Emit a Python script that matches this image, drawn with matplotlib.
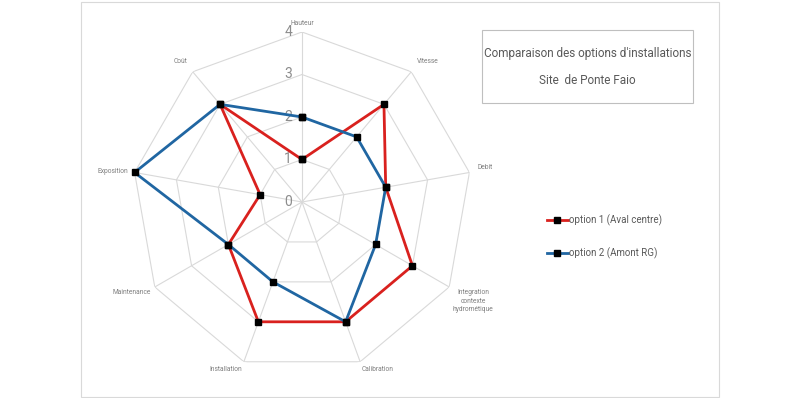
import matplotlib.pyplot as plt
import numpy as np
from matplotlib.patches import Rectangle

plt.rcParams['font.family'] = ['Roboto', 'DejaVu Sans']

# Données
criteres = ['Hauteur', 'Vitesse', 'Debit', 'Integration\ncontexte\nhydrométique',
            'Calibration', 'Installation', 'Maintenance', 'Exposition', 'Coût']
option1 = [1, 3, 2, 3, 3, 3, 2, 1, 3]
option2 = [2, 2, 2, 2, 3, 2, 2, 4, 3]
noms = ['option 1 (Aval centre)', 'option 2 (Amont RG)']
graduations = [0, 1, 2, 3, 4]

rouge = '#d9211e'
bleu = '#2066a2'
gris = '#d9d9d9'
texte = '#7f7f7f'

n = len(criteres)
angles = np.arange(n) * 2 * np.pi / n

fig = plt.figure(figsize=(8, 3.98), dpi=100)

# Cadre du graphique
fig.patches.append(Rectangle((81 / 800, 1 / 398), 638 / 800, 395 / 398,
                             transform=fig.transFigure, fill=False,
                             edgecolor=gris, linewidth=0.8))

ax = fig.add_axes([132 / 800, 26 / 398, 340 / 800, 340 / 398], projection='polar')
ax.set_theta_offset(np.pi / 2)
ax.set_theta_direction(-1)
ax.set_ylim(0, 4)
ax.grid(False)
ax.spines['polar'].set_visible(False)
ax.set_xticks([])
ax.set_yticks([])
ax.patch.set_alpha(0)

# Grille polygonale
ang_ferme = np.append(angles, angles[0])
for g in graduations[1:]:
    ax.plot(ang_ferme, [g] * (n + 1), color=gris, linewidth=0.8, zorder=1)
for a in angles:
    ax.plot([a, a], [0, 4], color=gris, linewidth=0.8, zorder=1)

# Valeurs de l'échelle
for g in graduations:
    ax.annotate(str(g), xy=(0, g), xytext=(-10, 0), textcoords='offset points',
                ha='center', va='center', fontsize=10, color='#8c8c8c')

# Libellés des axes
for a, lab in zip(angles, criteres):
    deg = np.rad2deg(a)
    if deg == 0:
        ha, va, r = 'center', 'bottom', 4.12
    elif deg < 90:
        ha, va, r = 'left', 'bottom', 4.2
    elif deg < 110:
        ha, va, r = 'left', 'center', 4.15
    elif deg < 180:
        ha, va, r = 'left', 'top', 4.1
    elif deg < 250:
        ha, va, r = 'right', 'top', 4.1
    elif deg < 290:
        ha, va, r = 'right', 'center', 4.15
    else:
        ha, va, r = 'right', 'bottom', 4.2
    ax.text(a, r, lab, ha=ha, va=va, fontsize=4.8, color=texte,
            multialignment='center', linespacing=1.3)

# Séries
for vals, col, nom in [(option1, rouge, noms[0]), (option2, bleu, noms[1])]:
    ax.plot(ang_ferme, vals + [vals[0]], color=col, linewidth=2, marker='s',
            markersize=4.8, markerfacecolor='black', markeredgecolor='black',
            label=nom, zorder=3, clip_on=False)

# Légende
fig.legend(loc='center left', bbox_to_anchor=(538 / 800, 161 / 398),
           frameon=False, fontsize=7, labelcolor='#595959', handlelength=2.2,
           handletextpad=0.1, labelspacing=2.2)

# Titre encadré
fig.patches.append(Rectangle((482 / 800, 1 - 103 / 398), 211 / 800, 73 / 398,
                             transform=fig.transFigure, fill=False,
                             edgecolor='#bfbfbf', linewidth=0.8))
fig.text(587.5 / 800, 1 - 53 / 398, "Comparaison des options d'installations",
         ha='center', va='center', fontsize=8.5, color='#595959')
fig.text(587.5 / 800, 1 - 80 / 398, 'Site  de Ponte Faio',
         ha='center', va='center', fontsize=8.5, color='#595959')

fig.savefig('out.png', dpi=100)
